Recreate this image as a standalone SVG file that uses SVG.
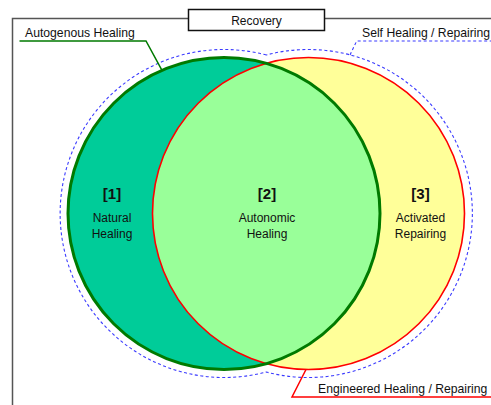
<svg xmlns="http://www.w3.org/2000/svg" width="491" height="405" viewBox="0 0 491 405">
<style>
text{font-family:"Liberation Sans",Arial,sans-serif;fill:#111;}
.lbl{font-size:12px;text-anchor:middle;}
.num{font-size:15px;font-weight:bold;text-anchor:middle;}
.call{font-size:12.2px;}
.frame{fill:none;stroke:#555;stroke-width:1.5;}
.dash{fill:none;stroke:#3b3bff;stroke-width:1.1;stroke-dasharray:3 2.5;}
</style>
<defs>
<clipPath id="clipGreen"><circle cx="224" cy="213.5" r="156"/></clipPath>
</defs>
<rect width="491" height="405" fill="#fff"/>
<g id="frame">
<path class="frame" d="M12.5 405 V18.5 H188.5 M324.5 18.5 H491"/>
</g>
<g id="recovery">
<rect x="188.5" y="9.5" width="136" height="21" fill="#fff" stroke="#111" stroke-width="1.5"/>
<text class="lbl" x="256.5" y="25">Recovery</text>
</g>
<g id="self-healing-repairing">
<path class="dash" d="M266.25 55 A164 164 0 1 0 266.25 372 A164 164 0 1 0 266.25 55 Z"/>
<text class="call" x="362" y="37">Self Healing / Repairing</text>
</g>
<g id="engineered">
<circle cx="308.5" cy="213.5" r="156" fill="#ffff99"/>
</g>
<g id="autogenous">
<circle cx="224" cy="213.5" r="156" fill="#00cc99"/>
</g>
<g id="overlap">
<circle cx="308.5" cy="213.5" r="156" fill="#99ff99" clip-path="url(#clipGreen)"/>
</g>
<g id="outlines">
<circle cx="308.5" cy="213.5" r="156" fill="none" stroke="#ff0000" stroke-width="1.6"/>
<circle cx="224" cy="213.5" r="156" fill="none" stroke="#007a00" stroke-width="3"/>
</g>
<g id="connectors">
<polyline points="19.5,41 146,41 162,70.3" fill="none" stroke="#007a00" stroke-width="1.5"/>
<polyline class="dash" points="350,55 356.7,41 491,41"/>
<polyline points="306,369.5 292,397 491,397" fill="none" stroke="#ff0000" stroke-width="1.5"/>
</g>
<g id="labels-callouts">
<text class="call" x="25" y="37">Autogenous Healing</text>
<text class="call" x="318" y="393">Engineered Healing / Repairing</text>
</g>
<g id="region1">
<text class="num" x="112" y="199">[1]</text>
<text class="lbl" x="112" y="221.5">Natural</text>
<text class="lbl" x="112" y="237.5">Healing</text>
</g>
<g id="region2">
<text class="num" x="267" y="199">[2]</text>
<text class="lbl" x="267" y="221.5">Autonomic</text>
<text class="lbl" x="267" y="237.5">Healing</text>
</g>
<g id="region3">
<text class="num" x="420.5" y="199">[3]</text>
<text class="lbl" x="420.5" y="221.5">Activated</text>
<text class="lbl" x="420.5" y="237.5">Repairing</text>
</g>
</svg>
